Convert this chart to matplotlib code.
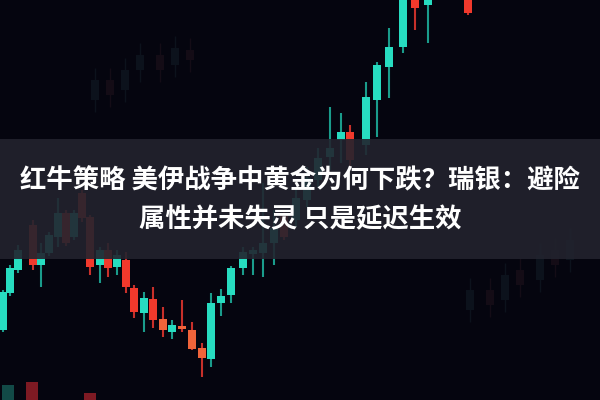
import matplotlib.pyplot as plt
from matplotlib.patches import Rectangle

plt.rcParams["font.family"] = ["Noto Sans CJK SC", "DejaVu Sans"]

# candle data: position along time axis and OHLC prices
cx = [3, 10, 18, 33, 41, 49, 58, 66, 74, 82, 90, 100, 108, 117, 126, 134,
      144, 153, 163, 172, 182, 192, 202, 211, 221, 231, 243, 253, 263, 274,
      284, 296, 307, 318, 330, 341, 350, 366, 377, 389, 403, 415, 428, 468]
c_open = [70, 107, 130, 175, 135, 147, 163, 187, 163, 207, 183, 135, 150, 133, 140, 112,
          87, 101, 81, 68, 74, 70, 52, 41, 97, 105, 132, 146, 147, 157,
          187, 180, 200, 220, 243, 260, 268, 255, 300, 333, 353, 405, 395, 405]
c_close = [108, 132, 150, 135, 147, 165, 187, 157, 187, 182, 133, 150, 132, 145, 113, 88,
           102, 80, 70, 75, 71, 51, 42, 97, 104, 132, 148, 150, 157, 172,
           163, 202, 222, 242, 252, 268, 240, 303, 335, 353, 405, 392, 405, 387]
c_high = [110, 135, 155, 180, 157, 168, 202, 190, 190, 210, 185, 153, 157, 150, 148, 115,
          108, 113, 93, 80, 100, 78, 57, 107, 111, 134, 153, 153, 217, 190,
          190, 210, 233, 252, 293, 287, 275, 318, 338, 372, 410, 410, 410, 410]
c_low = [68, 104, 127, 130, 113, 144, 153, 154, 160, 178, 125, 117, 123, 125, 107, 82,
         68, 72, 63, 61, 68, 50, 23, 33, 84, 97, 125, 125, 123, 135,
         160, 173, 193, 213, 230, 237, 232, 245, 263, 302, 347, 370, 357, 385]

# blurred candles very close to the lens, bottom left
near_x = [8, 32, 90]
near_open = [0, 18, 7]
near_close = [15, 0, 0]

# faint candles deep in the background
far_x = [95, 110, 125, 140, 160, 175, 190, 470, 490, 505, 520, 540, 555, 570]
far_open = [300, 320, 310, 330, 345, 335, 350, 90, 110, 100, 130, 120, 150, 140]
far_close = [320, 305, 330, 345, 330, 352, 340, 110, 95, 125, 115, 145, 135, 160]

title_lines = ["红牛策略 美伊战争中黄金为何下跌？瑞银：避险", "属性并未失灵 只是延迟生效"]

UP = "#27dcc0"
DOWN = "#f1392c"
UP_WICK = "#1a9c8b"
DOWN_WICK = "#c8302a"

fig = plt.figure(figsize=(6, 4), dpi=100)
fig.patch.set_facecolor("#05050f")
ax = fig.add_axes([0, 0, 1, 1])
ax.set_facecolor("#05050f")
ax.set_xlim(0, 600)
ax.set_ylim(0, 400)
ax.axis("off")

# background layer, barely visible
for x, o, c in zip(far_x, far_open, far_close):
    col = "#0c121c" if c > o else "#140c16"
    ax.vlines(x, min(o, c) - 12, max(o, c) + 12, color=col, lw=1, zorder=1)
    ax.bar(x, abs(c - o), bottom=min(o, c), width=8, color=col, zorder=1)

for x, o, c, h, l in zip(cx, c_open, c_close, c_high, c_low):
    up = c >= o
    body_col = UP if up else DOWN
    if not up and max(o, c) < 90 and x > 155:
        body_col = "#f0643a"
    wick_col = UP_WICK if up else DOWN_WICK
    ax.vlines(x, l, h, color=wick_col, lw=1.5, zorder=2)
    ax.bar(x, max(abs(c - o), 2), bottom=min(o, c), width=7.5,
           color=body_col, zorder=3)

for x, o, c in zip(near_x, near_open, near_close):
    col = "#17625a" if c > o else "#a8222a"
    ax.bar(x, abs(c - o), bottom=min(o, c), width=12, color=col, alpha=0.75, zorder=3)

# title banner
ax.add_patch(Rectangle((0, 141), 600, 120, facecolor="#22232e", alpha=0.9,
                       edgecolor="none", zorder=5))
ax.text(300, 219, title_lines[0], color="white", fontsize=19, fontweight="bold",
        ha="center", va="center", zorder=6)
ax.text(300, 180, title_lines[1], color="white", fontsize=19, fontweight="bold",
        ha="center", va="center", zorder=6)

fig.savefig("out.png", dpi=100, facecolor=fig.get_facecolor())
